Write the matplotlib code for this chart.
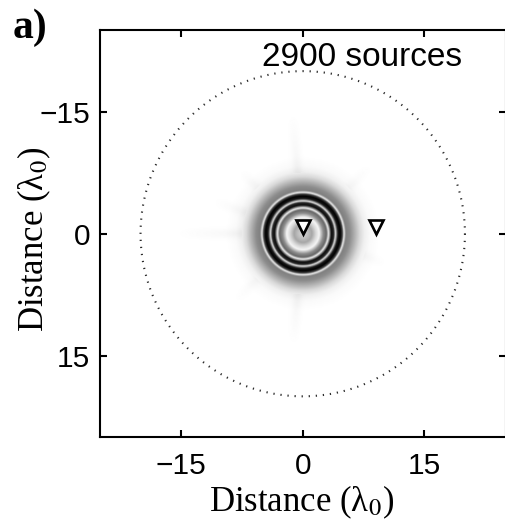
import numpy as np
import matplotlib
matplotlib.use("Agg")
import matplotlib.pyplot as plt

plt.rcParams["mathtext.fontset"] = "stix"

# radial intensity profile of the focal spot (radius in wavelengths, darkness 0..1)
ring_radius = [0.0, 0.6, 1.1, 1.6, 2.0, 2.5, 2.9, 3.15, 3.5, 3.8, 4.0, 4.3,
               4.6, 4.85, 5.05, 5.3, 5.8, 6.4, 7.0, 7.6, 8.3, 9.5, 40.0]
ring_level = [0.15, 0.25, 0.35, 0.15, 0.04, 0.45, 0.6, 0.05, 0.95, 0.85, 0.1, 0.9,
              1.0, 0.75, 0.06, 0.5, 0.45, 0.3, 0.15, 0.06, 0.02, 0.0, 0.0]

# faint side-lobe streaks: direction (deg), inner/outer radius, darkness
streak_angle = [95, 265, 180, 200, 135, 225, 315, 20]
streak_r0 = [7.5, 7.5, 7.5, 7.5, 8.0, 8.0, 8.0, 8.0]
streak_r1 = [14.0, 15.0, 16.0, 12.0, 12.0, 11.0, 12.0, 11.0]
streak_level = [0.04, 0.04, 0.035, 0.03, 0.025, 0.03, 0.025, 0.025]

array_radius = 20.0
n_sources = 2900
receiver_x = [0.0, 9.0]
receiver_y = [-0.8, -0.8]

ticks = [-15, 0, 15]
lim = 25

# build the intensity map
g = np.linspace(-lim, lim, 601)
X, Y = np.meshgrid(g, g)
R = np.hypot(X, Y)
field = np.interp(R, ring_radius, ring_level)
for ang, r0, r1, lev in zip(streak_angle, streak_r0, streak_r1, streak_level):
    a = np.deg2rad(ang)
    along = X * np.cos(a) + Y * np.sin(a)
    across = -X * np.sin(a) + Y * np.cos(a)
    inside = (along > r0) & (along < r1)
    fade = np.clip(1 - (along - r0) / (r1 - r0), 0, 1)
    field += np.where(inside, lev * fade * np.exp(-(across / 0.6) ** 2), 0)
field = np.clip(field, 0, 1)

fig = plt.figure(figsize=(5.05, 5.30), dpi=100)
ax = fig.add_axes([0.198, 0.1755, 0.803, 0.767])

ax.imshow(field, cmap="gray_r", vmin=0, vmax=1, extent=[-lim, lim, lim, -lim],
          interpolation="bilinear", aspect="auto")

th = np.linspace(0, 2 * np.pi, 721)
ax.plot(array_radius * np.cos(th), array_radius * np.sin(th), color="#2a2a2a",
        lw=1.5, linestyle=(0, (0.6, 2.8)))

ax.plot(receiver_x, receiver_y, linestyle="none", marker="v", ms=10.5,
        mfc="white", mec="black", mew=1.9)

ax.set_xlim(-lim, lim)
ax.set_ylim(lim, -lim)
ax.set_xticks(ticks)
ax.set_yticks(ticks)
ax.set_xticklabels(["\u221215", "0", "15"])
ax.set_yticklabels(["\u221215", "0", "15"])
ax.tick_params(direction="in", length=5, width=1.5, top=True, right=True,
               labelsize=21.5)
ax.tick_params(axis="x", pad=11)
ax.tick_params(axis="y", pad=7)
for lab in ax.get_xticklabels() + ax.get_yticklabels():
    lab.set_fontfamily("Liberation Sans")
for sp in ax.spines.values():
    sp.set_linewidth(1.5)

ax.set_xlabel("Distance (\u03bb$_0$)", fontsize=25, family="Liberation Serif")
ax.set_ylabel("Distance (\u03bb$_0$)", fontsize=25, family="Liberation Serif")
ax.xaxis.set_label_coords(0.498, -0.114)
ax.yaxis.set_label_coords(-0.117, 0.487)

ax.text(-5.0, -20.6, "%d sources" % n_sources, fontsize=24,
        family="Liberation Sans", va="baseline", ha="left")
fig.text(13 / 505, 1 - 38 / 530, "a)", fontsize=30, fontweight="bold",
         family="Liberation Serif", va="baseline", ha="left")

fig.savefig("out.png", dpi=100)
